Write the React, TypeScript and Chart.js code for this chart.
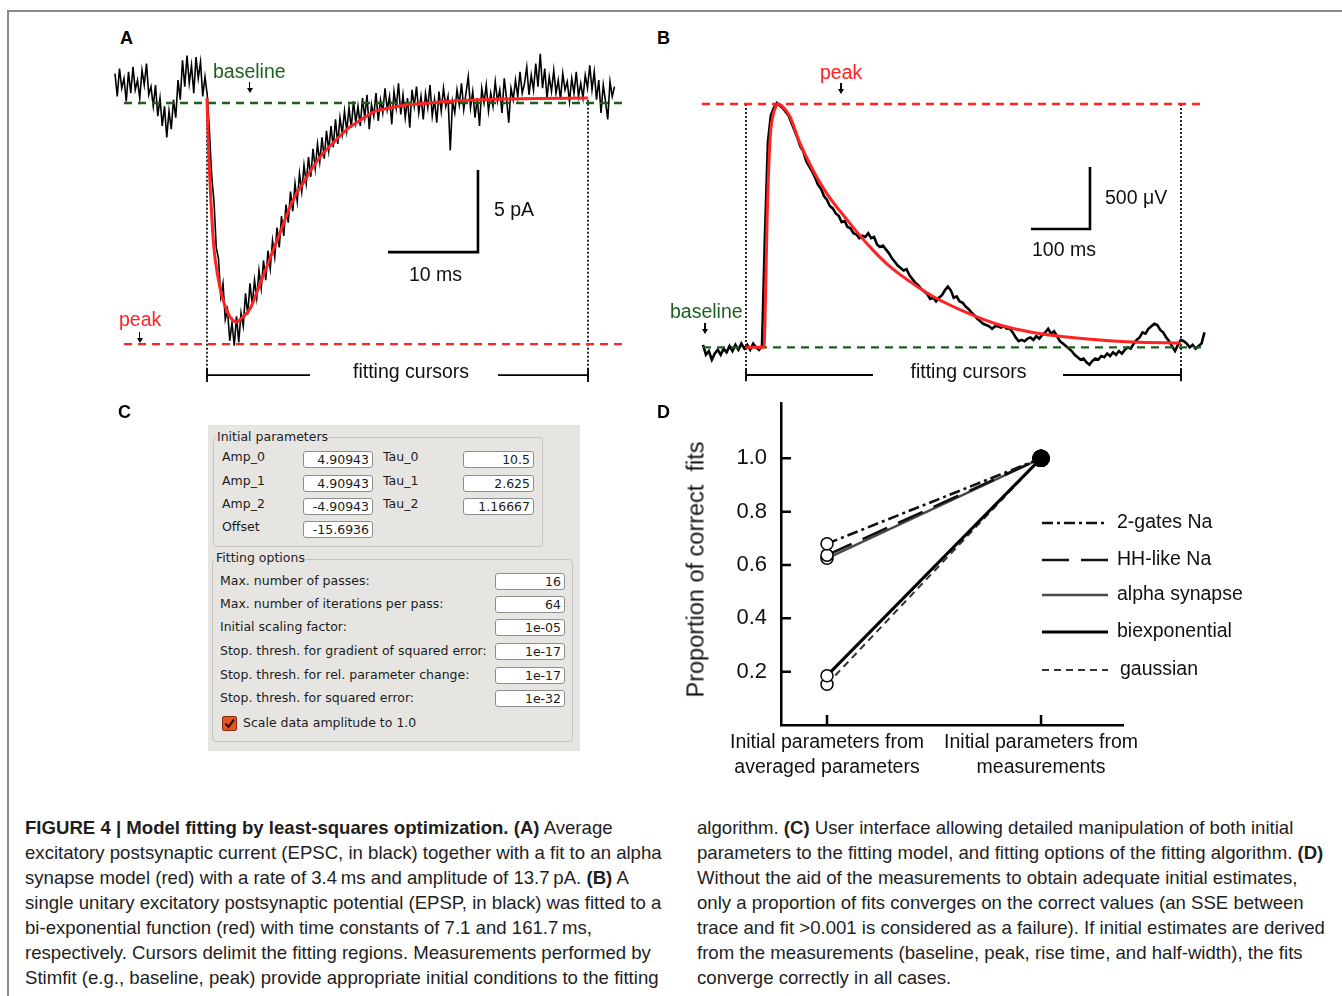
import React, { useEffect, useRef } from "react";
import { Chart, registerables } from "chart.js";

Chart.register(...registerables);

const SANS = '"Liberation Sans", Arial, Helvetica, sans-serif';
const GUI = '"DejaVu Sans", Verdana, sans-serif';
const RED = "#ff2323";
const GREEN = "#1d5f1d";

// ---------------- Panel A : EPSC (pA vs ms) ----------------
const A_SAMPLE_MS = 0.25;
const A_TRACE_PRE_PA = [
  1.8, 0.4, 2.1, 0.9, 1.5, 0.1, 1.9, 0.6, 2.2, 0.8, 1.4, 0.3, 2.0, 1.1, 2.4, 0.5,
  1.0, -0.2, 1.1, -0.8, 0.3, -1.4, -0.2, -2.1, -0.5, -1.6, 0.2, -0.9,
  1.4, 0.2, 2.6, 1.0, 2.9, 1.2, 2.3, 0.6, 2.8, 1.5, 2.5, 0.4, 1.6,
];
const A_TRACE_EVENT_PA = [
  0.5, -1.8, -4.5, -6.0, -8.8, -9.5, -11.8, -11.0, -13.2, -12.6,
  -14.5, -13.4, -14.8, -13.0, -14.6, -12.8, -13.6, -11.6, -12.9, -11.0,
  -12.3, -10.8, -11.9, -10.2, -11.3, -9.6, -10.8, -9.0, -10.1, -8.4,
  -9.4, -7.6, -8.8, -6.9, -8.1, -6.2, -7.3, -5.4, -6.6, -4.9,
  -6.0, -4.3, -5.4, -3.8, -4.9, -3.3, -4.5, -2.8, -4.0, -2.5,
  -3.6, -2.1, -3.4, -1.7, -2.9, -1.4, -2.7, -1.0, -2.5, -0.9,
  -1.9, -0.5, -1.7, -0.3, -1.5, 0.1, -1.2,
];
const A_TRACE_TAIL_PA = [
  -0.2, -1.4, 0.3, -0.9, 0.5, -1.6, -0.1, -0.8, 0.6, -1.1,
  0.2, -0.6, 0.9, -0.4, 0.4, -1.3, 0.7, -0.3, 1.2, -0.7,
  0.5, -0.9, 0.3, -1.5, 0.8, -0.2, 1.0, -0.6, 0.4, -1.0,
  0.6, -0.3, 1.1, -0.8, 0.2, -1.2, 0.7, -0.5, 0.9, -0.2,
  0.4, -2.9, 0.1, -0.6, 0.8, -0.1, 1.2, -0.4, 0.6, 1.6,
  -0.3, 0.7, -0.9, 0.3, -1.4, 0.9, 0.0, 1.1, -0.5, 0.6,
  -0.2, 1.3, 0.1, 0.8, -0.6, 1.5, 0.3, -1.2, 0.9, 0.2,
  1.4, 0.4, 1.9, 0.6, 1.2, 2.2, 0.5, 1.7, 0.8, 2.4,
  1.0, 3.0, 0.9, 2.1, 0.3, 1.6, 0.7, 2.0, 0.6, 1.4,
  0.2, 1.8, 0.8, 1.3, 0.1, 1.5, 0.6, 1.9, 0.4, 1.2,
  0.3, 1.7, 0.9, 2.3, 0.8, 1.9, 0.2, 1.4, -0.6, 1.1,
  0.1, -1.0, 1.3, 0.4, 1.0,
];
const A_FIT_MS = [10.22, 10.4, 10.75, 11.0, 11.4, 11.9, 12.5, 13.0, 13.5, 14.2, 15.0, 16.0, 17.0, 18.3, 19.8, 21.0, 22.0, 23.0, 24.2, 26.0, 27.0, 28.7, 30.5, 32.4, 36.1, 39.8, 45.0, 52.56];
const A_FIT_PA = [0.3, -2.9, -6.9, -8.9, -10.5, -11.8, -12.75, -13.2, -13.35, -13.05, -12.55, -11.2, -9.8, -7.95, -5.9, -4.8, -3.9, -3.15, -2.45, -1.5, -1.15, -0.55, -0.3, -0.12, 0.06, 0.18, 0.26, 0.3];
const A_BASELINE_PA = 0;
const A_PEAK_PA = -14.7;
const A_GUIDE_MS = [1.0, 56.7];
const A_CURSORS_MS = [10.22, 52.56];
const A_CURSOR_SPAN_PA = [0.2, -16.77];
const A_BRACKET_PA = -16.59;
const A_BRACKET_GAP_MS = [21.67, 42.56];
const A_SCALE = { t: 40.33, y: -9.09, dt: 10, dy: 5 };

// ---------------- Panel B : EPSP (mV vs ms) ----------------
const B_SAMPLE_MS = 5;
const B_TRACE_MV = [
  0.02, -0.06, -0.03, -0.1, -0.05, -0.02, -0.06, -0.01, -0.04, 0.01,
  -0.03, 0.02, -0.02, 0.03, -0.01, 0.02, -0.02, 0.03, 0.0, -0.02,
  0.01, 0.9, 1.65, 1.87, 1.93, 1.97, 1.95, 1.93, 1.9, 1.87,
  1.81, 1.75, 1.69, 1.62, 1.58, 1.5, 1.46, 1.42, 1.37, 1.31,
  1.28, 1.22, 1.19, 1.14, 1.12, 1.08, 1.06, 1.01, 1.02, 0.97,
  0.96, 0.92, 0.91, 0.88, 0.9, 0.89, 0.92, 0.88, 0.89, 0.83,
  0.81, 0.82, 0.79, 0.76, 0.72, 0.69, 0.66, 0.64, 0.62, 0.63,
  0.58, 0.55, 0.52, 0.5, 0.47, 0.45, 0.43, 0.39, 0.4, 0.37,
  0.4, 0.42, 0.46, 0.49, 0.46, 0.4, 0.41, 0.37, 0.36, 0.33,
  0.31, 0.28, 0.26, 0.23, 0.21, 0.19, 0.18, 0.17, 0.15, 0.17,
  0.17, 0.16, 0.17, 0.15, 0.15, 0.12, 0.08, 0.05, 0.06, 0.05,
  0.07, 0.08, 0.06, 0.09, 0.07, 0.1, 0.12, 0.15, 0.11, 0.13,
  0.09, 0.05, 0.03, 0.01, -0.01, -0.03, -0.06, -0.08, -0.1, -0.09,
  -0.12, -0.14, -0.11, -0.09, -0.1, -0.07, -0.08, -0.05, -0.07, -0.04,
  -0.06, -0.03, -0.05, -0.02, 0.0, -0.01, 0.03, 0.06, 0.08, 0.12,
  0.11, 0.15, 0.17, 0.19, 0.18, 0.14, 0.12, 0.08, 0.05, 0.01,
  -0.03, 0.02, 0.06, 0.05, 0.03, 0.0, 0.02, -0.01, 0.01, 0.03,
  0.12,
];
const B_FIT_MS = [72.9, 100, 103.4, 105, 108.5, 113.6, 118.6, 122.5, 127, 133, 147.5, 164, 203, 249, 283, 317, 363, 390, 447, 503, 559, 617, 673, 729, 810.2];
const B_FIT_MV = [0, 0, 0, 0.2, 1.0, 1.67, 1.87, 1.93, 1.962, 1.95, 1.86, 1.65, 1.29, 1.0, 0.81, 0.65, 0.49, 0.41, 0.28, 0.18, 0.12, 0.083, 0.059, 0.043, 0.035];
const B_BASELINE_MV = 0;
const B_PEAK_MV = 1.962;
const B_BASE_RANGE_MS = [0, 849];
const B_PEAK_RANGE_MS = [-1.7, 845.8];
const B_CURSORS_MS = [72.9, 810.2];
const B_CURSOR_SPAN_MV = [1.962, -0.25];
const B_BRACKET_MV = -0.223;
const B_BRACKET_GAP_MS = [288.1, 610.2];
const B_SCALE = { t: 655.9, y: 0.954, dt: 100, dy: 0.5 };

// ---------------- Panel C : fitting dialog ----------------
const C_INITIAL_ROWS = [
  ["Amp_0", "4.90943", "Tau_0", "10.5"],
  ["Amp_1", "4.90943", "Tau_1", "2.625"],
  ["Amp_2", "-4.90943", "Tau_2", "1.16667"],
  ["Offset", "-15.6936", "", ""],
];
const C_OPTION_LABELS = [
  "Max. number of passes:",
  "Max. number of iterations per pass:",
  "Initial scaling factor:",
  "Stop. thresh. for gradient of squared error:",
  "Stop. thresh. for rel. parameter change:",
  "Stop. thresh. for squared error:",
];
const C_OPTION_VALUES = ["16", "64", "1e-05", "1e-17", "1e-17", "1e-32"];

// ---------------- Panel D : proportion of correct fits ----------------
const D_CATEGORIES = [
  ["Initial parameters from", "averaged parameters"],
  ["Initial parameters from", "measurements"],
];
const D_SERIES_NAMES = ["2-gates Na", "HH-like Na", "alpha synapse", "biexponential", "gaussian"];
const D_TWO_GATES = [0.68, 1.0];
const D_HH_LIKE = [0.637, 1.0];
const D_ALPHA = [0.625, 1.0];
const D_BIEXP = [0.185, 1.0];
const D_GAUSSIAN = [0.153, 1.0];
const D_Y_TICKS = [0.2, 0.4, 0.6, 0.8, 1.0];

// ---------------- caption ----------------
const CAPTION_LEFT: [string, string][] = [
  ["FIGURE 4 | Model fitting by least-squares optimization. (A)", " Average"],
  ["", "excitatory postsynaptic current (EPSC, in black) together with a fit to an alpha"],
  ["", "synapse model (red) with a rate of 3.4\u2009ms and amplitude of 13.7\u2009pA. |(B)| A"],
  ["", "single unitary excitatory postsynaptic potential (EPSP, in black) was fitted to a"],
  ["", "bi-exponential function (red) with time constants of 7.1 and 161.7\u2009ms,"],
  ["", "respectively. Cursors delimit the fitting regions. Measurements performed by"],
  ["", "Stimfit (e.g., baseline, peak) provide appropriate initial conditions to the fitting"],
];
const CAPTION_RIGHT = [
  "algorithm. |(C)| User interface allowing detailed manipulation of both initial",
  "parameters to the fitting model, and fitting options of the fitting algorithm. |(D)|",
  "Without the aid of the measurements to obtain adequate initial estimates,",
  "only a proportion of fits converges on the correct values (an SSE between",
  "trace and fit >0.001 is considered as a failure). If initial estimates are derived",
  "from the measurements (baseline, peak, rise time, and half-width), the fits",
  "converge correctly in all cases.",
];

type Pt = { x: number; y: number };

function seg(data: Pt[], o: { color?: string; width?: number; dash?: number[]; order?: number; smooth?: boolean } = {}) {
  return {
    type: "line",
    data,
    borderColor: o.color ?? "#000",
    borderWidth: o.width ?? 2,
    borderDash: o.dash ?? [],
    pointRadius: 0,
    fill: false,
    tension: 0,
    cubicInterpolationMode: o.smooth ? "monotone" : "default",
    borderCapStyle: "butt",
    borderJoinStyle: "miter",
    order: o.order ?? 3,
  };
}

function traceConfig(datasets: any[], xr: number[], yr: number[]) {
  return {
    type: "line",
    data: { datasets },
    options: {
      responsive: false,
      animation: false,
      events: [],
      layout: { padding: 0 },
      plugins: { legend: { display: false }, tooltip: { enabled: false } },
      scales: {
        x: { type: "linear", display: false, min: xr[0], max: xr[1] },
        y: { type: "linear", display: false, min: yr[0], max: yr[1] },
      },
    },
  };
}

function panelADatasets() {
  const trace = [...A_TRACE_PRE_PA, ...A_TRACE_EVENT_PA, ...A_TRACE_TAIL_PA].map((v, i) => ({ x: i * A_SAMPLE_MS, y: v }));
  const fit = A_FIT_MS.map((t, i) => ({ x: t, y: A_FIT_PA[i] }));
  const cap = 0.42;
  return [
    seg(fit, { color: RED, width: 3, order: 1, smooth: true }),
    seg([{ x: A_GUIDE_MS[0], y: A_BASELINE_PA }, { x: A_GUIDE_MS[1], y: A_BASELINE_PA }], { color: GREEN, width: 2.4, dash: [8, 6], order: 2 }),
    seg([{ x: A_GUIDE_MS[0], y: A_PEAK_PA }, { x: A_GUIDE_MS[1], y: A_PEAK_PA }], { color: RED, width: 2.4, dash: [8, 6], order: 2 }),
    ...A_CURSORS_MS.map((t) => seg([{ x: t, y: A_CURSOR_SPAN_PA[0] }, { x: t, y: A_CURSOR_SPAN_PA[1] }], { color: "#111", width: 1.8, dash: [2, 2], order: 4 })),
    seg([{ x: A_CURSORS_MS[0], y: A_BRACKET_PA }, { x: A_BRACKET_GAP_MS[0], y: A_BRACKET_PA }], { width: 1.8 }),
    seg([{ x: A_BRACKET_GAP_MS[1], y: A_BRACKET_PA }, { x: A_CURSORS_MS[1], y: A_BRACKET_PA }], { width: 1.8 }),
    ...A_CURSORS_MS.map((t) => seg([{ x: t, y: A_BRACKET_PA + cap }, { x: t, y: A_BRACKET_PA - cap }], { width: 1.8 })),
    seg([{ x: A_SCALE.t - A_SCALE.dt, y: A_SCALE.y }, { x: A_SCALE.t, y: A_SCALE.y }, { x: A_SCALE.t, y: A_SCALE.y + A_SCALE.dy }], { width: 2.6 }),
    seg(trace, { color: "#000", width: 1.6, order: 10 }),
  ];
}

function panelBDatasets() {
  const trace = B_TRACE_MV.map((v, i) => ({ x: i * B_SAMPLE_MS, y: v }));
  const fit = B_FIT_MS.map((t, i) => ({ x: t, y: B_FIT_MV[i] }));
  const cap = 0.05;
  return [
    seg(fit, { color: RED, width: 3, order: 1, smooth: true }),
    seg([{ x: B_BASE_RANGE_MS[0], y: B_BASELINE_MV }, { x: B_BASE_RANGE_MS[1], y: B_BASELINE_MV }], { color: GREEN, width: 2.4, dash: [8, 6], order: 2 }),
    seg([{ x: B_PEAK_RANGE_MS[0], y: B_PEAK_MV }, { x: B_PEAK_RANGE_MS[1], y: B_PEAK_MV }], { color: RED, width: 2.4, dash: [8, 6], order: 2 }),
    ...B_CURSORS_MS.map((t) => seg([{ x: t, y: B_CURSOR_SPAN_MV[0] }, { x: t, y: B_CURSOR_SPAN_MV[1] }], { color: "#111", width: 1.8, dash: [2, 2], order: 4 })),
    seg([{ x: B_CURSORS_MS[0], y: B_BRACKET_MV }, { x: B_BRACKET_GAP_MS[0], y: B_BRACKET_MV }], { width: 1.8 }),
    seg([{ x: B_BRACKET_GAP_MS[1], y: B_BRACKET_MV }, { x: B_CURSORS_MS[1], y: B_BRACKET_MV }], { width: 1.8 }),
    ...B_CURSORS_MS.map((t) => seg([{ x: t, y: B_BRACKET_MV + cap }, { x: t, y: B_BRACKET_MV - cap }], { width: 1.8 })),
    seg([{ x: B_SCALE.t - B_SCALE.dt, y: B_SCALE.y }, { x: B_SCALE.t, y: B_SCALE.y }, { x: B_SCALE.t, y: B_SCALE.y + B_SCALE.dy }], { width: 2.6 }),
    seg(trace, { color: "#000", width: 2.6, order: 10 }),
  ];
}

const D_STYLES = [
  { color: "#111", width: 2.6, dash: [11, 4, 3, 4] },
  { color: "#111", width: 2.6, dash: [27, 12] },
  { color: "#4a4a4a", width: 2.4, dash: [] },
  { color: "#000", width: 3, dash: [] },
  { color: "#333", width: 2, dash: [7, 5] },
];
const D_LEGEND_ROWS = [120, 157, 192, 229, 267];
const D_LEGEND_TEXT_X = [336, 336, 336, 336, 339];

const dExtras = {
  id: "dExtras",
  afterDatasetsDraw(chart: any) {
    const { ctx, chartArea: ca, scales } = chart;
    ctx.save();
    ctx.strokeStyle = "#000";
    ctx.lineWidth = 2.5;
    ctx.setLineDash([]);
    ctx.beginPath();
    for (const v of D_Y_TICKS) {
      const y = scales.y.getPixelForValue(v);
      ctx.moveTo(ca.left, y);
      ctx.lineTo(ca.left + 10, y);
    }
    for (let i = 0; i < D_CATEGORIES.length; i++) {
      const x = scales.x.getPixelForValue(i);
      ctx.moveTo(x, ca.bottom);
      ctx.lineTo(x, ca.bottom - 10);
    }
    ctx.stroke();
    ctx.font = `19.5px ${SANS}`;
    ctx.textBaseline = "middle";
    ctx.fillStyle = "#111";
    chart.data.datasets.forEach((ds: any, i: number) => {
      const y = ca.top + D_LEGEND_ROWS[i];
      ctx.beginPath();
      ctx.strokeStyle = ds.borderColor;
      ctx.lineWidth = ds.borderWidth;
      ctx.setLineDash(ds.borderDash || []);
      ctx.moveTo(ca.left + 261, y);
      ctx.lineTo(ca.left + 327, y);
      ctx.stroke();
      ctx.setLineDash([]);
      ctx.fillText(ds.label, ca.left + D_LEGEND_TEXT_X[i], y);
    });
    ctx.restore();
  },
};

function panelDConfig() {
  const series = [D_TWO_GATES, D_HH_LIKE, D_ALPHA, D_BIEXP, D_GAUSSIAN];
  const datasets = series.map((vals, s) => ({
    type: "line",
    label: D_SERIES_NAMES[s],
    data: vals.map((v, i) => ({ x: i, y: v })),
    borderColor: D_STYLES[s].color,
    borderWidth: D_STYLES[s].width,
    borderDash: D_STYLES[s].dash,
    fill: false,
    tension: 0,
    pointRadius: [6, 8],
    pointBackgroundColor: ["#fff", "#000"],
    pointBorderColor: "#000",
    pointBorderWidth: 1.5,
    clip: false,
  }));
  return {
    type: "line",
    data: { datasets },
    plugins: [dExtras],
    options: {
      responsive: false,
      animation: false,
      events: [],
      layout: { padding: { left: 0, right: 219, top: 28, bottom: 0 } },
      plugins: { legend: { display: false }, tooltip: { enabled: false } },
      scales: {
        x: {
          type: "linear",
          min: -0.215,
          max: 1.383,
          afterBuildTicks: (sc: any) => {
            sc.ticks = D_CATEGORIES.map((_, i) => ({ value: i }));
          },
          afterFit: (sc: any) => {
            sc.height = 70;
          },
          grid: { display: false, drawTicks: false },
          border: { display: true, color: "#000", width: 2.5 },
          ticks: {
            callback: (v: number) => D_CATEGORIES[v],
            autoSkip: false,
            maxRotation: 0,
            padding: 5,
            color: "#111",
            font: { family: SANS, size: 19.5, lineHeight: 1.282 },
          },
        },
        y: {
          type: "linear",
          min: 0,
          max: 1.2075,
          afterBuildTicks: (sc: any) => {
            sc.ticks = D_Y_TICKS.map((v) => ({ value: v }));
          },
          afterFit: (sc: any) => {
            sc.width = 121;
          },
          grid: { display: false, drawTicks: false },
          border: { display: true, color: "#000", width: 2.5 },
          ticks: {
            callback: (v: number) => v.toFixed(1),
            padding: 14,
            color: "#111",
            font: { family: SANS, size: 22 },
          },
        },
      },
    },
  };
}

function ChartCanvas({ left, top, width, height, make }: { left: number; top: number; width: number; height: number; make: () => any }) {
  const ref = useRef<HTMLCanvasElement>(null);
  useEffect(() => {
    const chart = new Chart(ref.current as HTMLCanvasElement, make());
    return () => chart.destroy();
  }, []);
  return <canvas ref={ref} width={width} height={height} style={{ position: "absolute", left, top, width, height }} />;
}

function Txt({ x, y, size, children, color = "#111", weight = 400, align = "left", family = SANS }: any) {
  const base: any = {
    position: "absolute",
    top: y - size * 0.49,
    fontSize: size,
    lineHeight: `${size}px`,
    fontFamily: family,
    color,
    fontWeight: weight,
    whiteSpace: "pre",
  };
  if (align === "center") return <div style={{ ...base, left: x - 300, width: 600, textAlign: "center" }}>{children}</div>;
  return <div style={{ ...base, left: x }}>{children}</div>;
}

function Arrow({ x, y1, y2 }: { x: number; y1: number; y2: number }) {
  return (
    <>
      <div style={{ position: "absolute", left: x - 0.75, top: y1, width: 1.5, height: y2 - y1 - 4, background: "#000" }} />
      <div style={{ position: "absolute", left: x - 3, top: y2 - 5, width: 0, height: 0, borderLeft: "3px solid transparent", borderRight: "3px solid transparent", borderTop: "5px solid #000" }} />
    </>
  );
}

function RichLine({ text }: { text: string }) {
  const parts = text.split("|");
  return (
    <>
      {parts.map((p, i) => (i % 2 === 1 ? <b key={i}>{p}</b> : <span key={i}>{p}</span>))}
    </>
  );
}

function Field({ x, cy, w, value }: { x: number; cy: number; w: number; value: string }) {
  return (
    <div
      style={{
        position: "absolute",
        left: x,
        top: cy - 8.5,
        width: w,
        height: 17,
        boxSizing: "border-box",
        border: "1px solid #8d8d8d",
        borderRadius: 3,
        background: "#fff",
        fontFamily: GUI,
        fontSize: 12.5,
        lineHeight: "15px",
        textAlign: "right",
        paddingRight: 3,
        color: "#1a1a1a",
        whiteSpace: "pre",
      }}
    >
      {value}
    </div>
  );
}

function PanelC() {
  const rows1 = [458, 482, 505, 528];
  const rows2 = [581, 604, 627, 651, 675, 698];
  const groupStyle: any = { position: "absolute", border: "1px solid #c6c4c0", borderRadius: 4, boxSizing: "border-box" };
  const gtitle: any = { position: "absolute", fontFamily: GUI, fontSize: 12.5, lineHeight: "16px", color: "#222", background: "#e6e5e2", padding: "0 1px", whiteSpace: "pre" };
  return (
    <>
      <div style={{ position: "absolute", left: 208, top: 425, width: 372, height: 326, background: "#e6e5e2" }} />
      <div style={{ ...groupStyle, left: 213, top: 437, width: 330, height: 110 }} />
      <div style={{ ...gtitle, left: 216, top: 429 }}>Initial parameters</div>
      {C_INITIAL_ROWS.map((r, i) => (
        <React.Fragment key={i}>
          <Txt x={222} y={rows1[i] - 0.5} size={12.5} family={GUI} color="#1c1c1c">{r[0]}</Txt>
          <Field x={303} cy={rows1[i] + 1} w={70} value={r[1]} />
          {r[2] ? <Txt x={383} y={rows1[i] - 0.5} size={12.5} family={GUI} color="#1c1c1c">{r[2]}</Txt> : null}
          {r[3] ? <Field x={463} cy={rows1[i] + 1} w={71} value={r[3]} /> : null}
        </React.Fragment>
      ))}
      <div style={{ ...groupStyle, left: 212, top: 559, width: 361, height: 183 }} />
      <div style={{ ...gtitle, left: 215, top: 550 }}>Fitting options</div>
      {C_OPTION_LABELS.map((lab, i) => (
        <React.Fragment key={i}>
          <Txt x={220} y={rows2[i]} size={12.5} family={GUI} color="#1c1c1c">{lab}</Txt>
          <Field x={495} cy={rows2[i] + 0.5} w={70} value={C_OPTION_VALUES[i]} />
        </React.Fragment>
      ))}
      <div style={{ position: "absolute", left: 222, top: 716, width: 15, height: 15, boxSizing: "border-box", background: "#e2561f", border: "1px solid #8b2d0c", borderRadius: 2 }}>
        <svg width="13" height="13" style={{ position: "absolute", left: 0, top: 0 }}>
          <path d="M2.5 6.5 L5.5 10 L11 2.5" stroke="#3a1407" strokeWidth="2.2" fill="none" />
        </svg>
      </div>
      <Txt x={243} y={723} size={12.5} family={GUI} color="#1c1c1c">Scale data amplitude to 1.0</Txt>
    </>
  );
}

export default function App() {
  const captionY = [828, 853, 878, 903, 928, 953, 978];
  return (
    <div style={{ position: "absolute", left: 0, top: 0, width: 1342, height: 996, background: "#fff", overflow: "hidden" }}>
      <div style={{ position: "absolute", left: 7, top: 10, width: 1340, height: 990, borderTop: "2px solid #8a8a8a", borderLeft: "2px solid #8a8a8a" }} />

      {/* Panel A */}
      <ChartCanvas left={110} top={50} width={520} height={340} make={() => traceConfig(panelADatasets(), [-0.5556, 57.222], [-17.5, 3.2317])} />
      <Txt x={120} y={37.5} size={18} weight={700} color="#000">A</Txt>
      <Txt x={213} y={72} size={19.5} color={GREEN}>baseline</Txt>
      <Arrow x={249.5} y1={82} y2={93} />
      <Txt x={119} y={320} size={19.5} color={RED}>peak</Txt>
      <Arrow x={139.5} y1={332} y2={343} />
      <Txt x={411} y={372} size={19.5} align="center">fitting cursors</Txt>
      <Txt x={494} y={210} size={19.5}>5 pA</Txt>
      <Txt x={435.5} y={275} size={19.5} align="center">10 ms</Txt>

      {/* Panel B */}
      <ChartCanvas left={690} top={90} width={530} height={300} make={() => traceConfig(panelBDatasets(), [-22.03, 876.3], [-0.344, 2.075])} />
      <Txt x={657} y={37.5} size={18} weight={700} color="#000">B</Txt>
      <Txt x={820} y={72.5} size={19.5} color={RED}>peak</Txt>
      <Arrow x={841} y1={83} y2={94} />
      <Txt x={670} y={311.5} size={19.5} color={GREEN}>baseline</Txt>
      <Arrow x={705} y1={323} y2={334} />
      <Txt x={968.5} y={372} size={19.5} align="center">fitting cursors</Txt>
      <Txt x={1105} y={197.5} size={19.5}>500 μV</Txt>
      <Txt x={1032} y={250} size={19.5}>100 ms</Txt>

      {/* Panel C */}
      <Txt x={118} y={411.5} size={18} weight={700} color="#000">C</Txt>
      <PanelC />

      {/* Panel D */}
      <Txt x={657} y={411.5} size={18} weight={700} color="#000">D</Txt>
      <ChartCanvas left={660} top={375} width={682} height={420} make={panelDConfig} />
      <div
        style={{
          position: "absolute",
          left: 696 - 200,
          top: 569 - 11.5,
          width: 400,
          height: 23,
          lineHeight: "23px",
          fontSize: 23.5,
          fontFamily: SANS,
          color: "#111",
          textAlign: "center",
          whiteSpace: "pre",
          transform: "rotate(-90deg)",
          transformOrigin: "50% 50%",
        }}
      >
        Proportion of correct  fits
      </div>

      {/* Caption */}
      {CAPTION_LEFT.map(([bold, rest], i) => (
        <Txt key={"l" + i} x={25} y={captionY[i]} size={18.6} color="#1e1e1e">
          {bold ? <b>{bold}</b> : null}
          <RichLine text={rest} />
        </Txt>
      ))}
      {CAPTION_RIGHT.map((line, i) => (
        <Txt key={"r" + i} x={697} y={captionY[i]} size={18.6} color="#1e1e1e">
          <RichLine text={line} />
        </Txt>
      ))}
    </div>
  );
}
